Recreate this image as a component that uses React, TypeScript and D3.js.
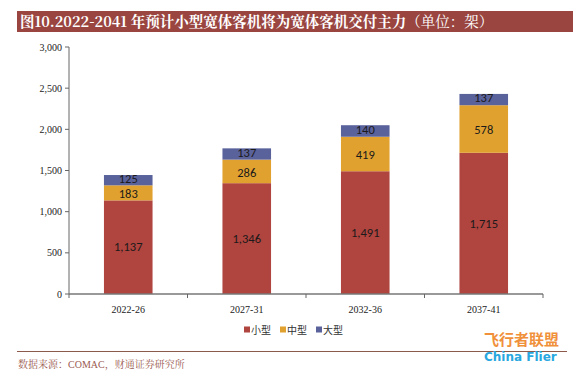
import React from "react";
import * as d3 from "d3";

const categories = ["2022-26", "2027-31", "2032-36", "2037-41"];
const seriesNames = ["小型", "中型", "大型"];
const small = [1137, 1346, 1491, 1715];
const medium = [183, 286, 419, 578];
const large = [125, 137, 140, 137];
const yTicks = [0, 500, 1000, 1500, 2000, 2500, 3000];
const colors = ["#B0443F", "#E1A12F", "#5A629C"];

export default function App() {
  const W = 586, H = 382;
  const x0 = 69, x1 = 543, yTop = 47, yBot = 294;
  const x = d3.scaleBand<string>().domain(categories).range([x0, x1]).paddingInner(0.59).paddingOuter(0.295);
  const y = d3.scaleLinear().domain([0, 3000]).range([yBot, yTop]);
  const rows = categories.map((c, i) => ({ cat: c, 小型: small[i], 中型: medium[i], 大型: large[i] }));
  const stack = d3.stack<any>().keys(seriesNames)(rows);
  const fmt = d3.format(",");
  const serif = "'Times New Roman', 'Liberation Serif', serif";
  const sans = "Carlito, 'Open Sans', 'Noto Sans', sans-serif";
  const step = (x1 - x0) / categories.length;
  const legendX = [244, 280, 316];
  const labelShift = [0, 1, -1.5];
  return (
    <svg width={W} height={H} style={{ position: "absolute", left: 0, top: 0, background: "#fff" }}>
      <rect x={17} y={11} width={556} height={21} fill="#9A4540" />
      <text x={20} y={27} fill="#fff" fontFamily={"'Noto Serif CJK SC', 'Liberation Serif', 'Noto Sans CJK SC', serif"} fontSize={14.5} fontWeight="bold">
        图10.2022-2041 年预计小型宽体客机将为宽体客机交付主力
        <tspan fontWeight="normal">（单位：架）</tspan>
      </text>
      {yTicks.map((t) => (
        <g key={t}>
          <line x1={x0 - 4} x2={x0} y1={y(t)} y2={y(t)} stroke="#666" />
          <text x={x0 - 7} y={y(t) + 3.5} textAnchor="end" fontFamily={serif} fontSize={10} fill="#222">{fmt(t)}</text>
        </g>
      ))}
      <line x1={x0} x2={x0} y1={yTop} y2={yBot} stroke="#666" />
      {stack.map((s, si) => (
        <g key={s.key}>
          {s.map((d, i) => {
            const yy0 = y(d[1]), yy1 = y(d[0]);
            const v = d[1] - d[0];
            return (
              <g key={i}>
                <rect x={x(categories[i])!} y={yy0} width={x.bandwidth()} height={yy1 - yy0} fill={colors[si]} />
                <text x={x(categories[i])! + x.bandwidth() / 2} y={(yy0 + yy1) / 2 + 4.3 + labelShift[si]} textAnchor="middle" fontFamily={sans} fontSize={12.5} fill="#1a1a1a">{fmt(v)}</text>
              </g>
            );
          })}
        </g>
      ))}
      <line x1={x0} x2={x1} y1={yBot} y2={yBot} stroke="#777" strokeWidth={1.5} />
      {d3.range(categories.length + 1).map((i) => (
        <line key={i} x1={x0 + i * step} x2={x0 + i * step} y1={yBot} y2={yBot + 4} stroke="#666" />
      ))}
      {categories.map((c) => (
        <text key={c} x={x(c)! + x.bandwidth() / 2} y={313} textAnchor="middle" fontFamily={serif} fontSize={10} fill="#222">{c}</text>
      ))}
      {seriesNames.map((n, i) => (
        <g key={n}>
          <rect x={legendX[i]} y={326.5} width={6} height={6} fill={colors[i]} />
          <text x={legendX[i] + 7} y={333.5} fontFamily={"'Noto Sans CJK SC', sans-serif"} fontSize={10} fill="#333">{n}</text>
        </g>
      ))}
      <line x1={17} x2={567} y1={351.5} y2={351.5} stroke="#8B5A4A" strokeWidth={1} />
      <text x={18} y={368} fontFamily={"'Liberation Serif', 'Noto Serif CJK SC', 'Noto Sans CJK SC', serif"} fontSize={10} fill="#9A5A50">数据来源：COMAC，财通证券研究所</text>
      <g>
        <text x={484} y={345} fontFamily={"'Noto Sans CJK SC', sans-serif"} fontSize={15} fontWeight="bold" fill="#F0903A">飞行者联盟</text>
        <text x={484} y={361} fontFamily={"'DejaVu Sans', sans-serif"} fontSize={12} fontWeight="bold" fill="#29A8E0">China Flier</text>
      </g>
    </svg>
  );
}
